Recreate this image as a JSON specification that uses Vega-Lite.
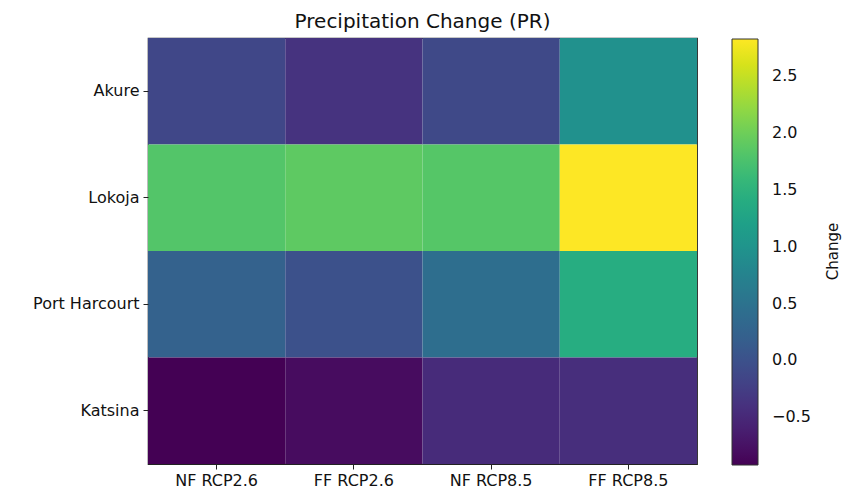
{
  "$schema": "https://vega.github.io/schema/vega-lite/v6.json",
  "width": 549,
  "height": 426,
  "autosize": {"type": "none"},
  "padding": {"left": 148, "top": 38, "right": 146, "bottom": 25},
  "background": "white",
  "title": {
    "text": "Precipitation Change (PR)",
    "font": "DejaVu Sans",
    "fontSize": 20,
    "fontWeight": "normal",
    "color": "#111111",
    "anchor": "middle",
    "offset": 6
  },
  "data": {
    "values": [
      {"city": "Akure", "scenario": "NF RCP2.6", "change": -0.13},
      {"city": "Akure", "scenario": "FF RCP2.6", "change": -0.38},
      {"city": "Akure", "scenario": "NF RCP8.5", "change": -0.11},
      {"city": "Akure", "scenario": "FF RCP8.5", "change": 0.95},
      {"city": "Lokoja", "scenario": "NF RCP2.6", "change": 1.82},
      {"city": "Lokoja", "scenario": "FF RCP2.6", "change": 1.9},
      {"city": "Lokoja", "scenario": "NF RCP8.5", "change": 1.84},
      {"city": "Lokoja", "scenario": "FF RCP8.5", "change": 2.83},
      {"city": "Port Harcourt", "scenario": "NF RCP2.6", "change": 0.24},
      {"city": "Port Harcourt", "scenario": "FF RCP2.6", "change": 0.0},
      {"city": "Port Harcourt", "scenario": "NF RCP8.5", "change": 0.43},
      {"city": "Port Harcourt", "scenario": "FF RCP8.5", "change": 1.41},
      {"city": "Katsina", "scenario": "NF RCP2.6", "change": -0.92},
      {"city": "Katsina", "scenario": "FF RCP2.6", "change": -0.81},
      {"city": "Katsina", "scenario": "NF RCP8.5", "change": -0.47},
      {"city": "Katsina", "scenario": "FF RCP8.5", "change": -0.43}
    ]
  },
  "layer": [
    {
      "mark": {"type": "rect"},
      "encoding": {
        "x": {
          "field": "scenario",
          "type": "nominal",
          "sort": ["NF RCP2.6", "FF RCP2.6", "NF RCP8.5", "FF RCP8.5"],
          "scale": {"paddingInner": 0, "paddingOuter": 0},
          "axis": {"title": null, "labelAngle": 0, "domain": false, "ticks": true, "tickSize": 5, "tickColor": "#222222", "labelPadding": 3}
        },
        "y": {
          "field": "city",
          "type": "nominal",
          "sort": ["Akure", "Lokoja", "Port Harcourt", "Katsina"],
          "scale": {"paddingInner": 0, "paddingOuter": 0},
          "axis": {"title": null, "domain": false, "ticks": true, "tickSize": 5, "tickColor": "#222222", "labelPadding": 4}
        },
        "color": {
          "field": "change",
          "type": "quantitative",
          "scale": {"scheme": "viridis", "domain": [-0.92, 2.83], "nice": false, "zero": false},
          "legend": {
            "title": null,
            "orient": "none",
            "legendX": 584,
            "legendY": 1,
            "direction": "vertical",
            "gradientLength": 426,
            "gradientThickness": 26,
            "gradientStrokeColor": "#333333",
            "gradientStrokeWidth": 1,
            "values": [-0.5, 0, 0.5, 1, 1.5, 2, 2.5],
            "format": ".1f",
            "labelFont": "DejaVu Sans",
            "labelFontSize": 16,
            "labelColor": "#111111",
            "labelOffset": 14
          }
        }
      }
    },
    {
      "mark": {"type": "rect", "opacity": 0},
      "encoding": {
        "x": {
          "field": "scenario",
          "type": "nominal",
          "sort": ["NF RCP2.6", "FF RCP2.6", "NF RCP8.5", "FF RCP8.5"]
        },
        "y": {
          "field": "city",
          "type": "nominal",
          "sort": ["Akure", "Lokoja", "Port Harcourt", "Katsina"],
          "scale": {"paddingInner": 0, "paddingOuter": 0},
          "axis": {
            "orient": "right",
            "title": "Change",
            "titleAngle": -90,
            "titleFont": "DejaVu Sans",
            "titleFontSize": 15,
            "titleFontWeight": "normal",
            "titleColor": "#111111",
            "titlePadding": 143,
            "labels": false,
            "ticks": false,
            "domain": false
          }
        }
      }
    }
  ],
  "resolve": {"axis": {"y": "independent"}},
  "config": {
    "view": {"stroke": "#222222", "strokeWidth": 1.2},
    "axis": {
      "labelFont": "DejaVu Sans",
      "labelFontSize": 16,
      "labelColor": "#111111",
      "grid": false
    }
  }
}
